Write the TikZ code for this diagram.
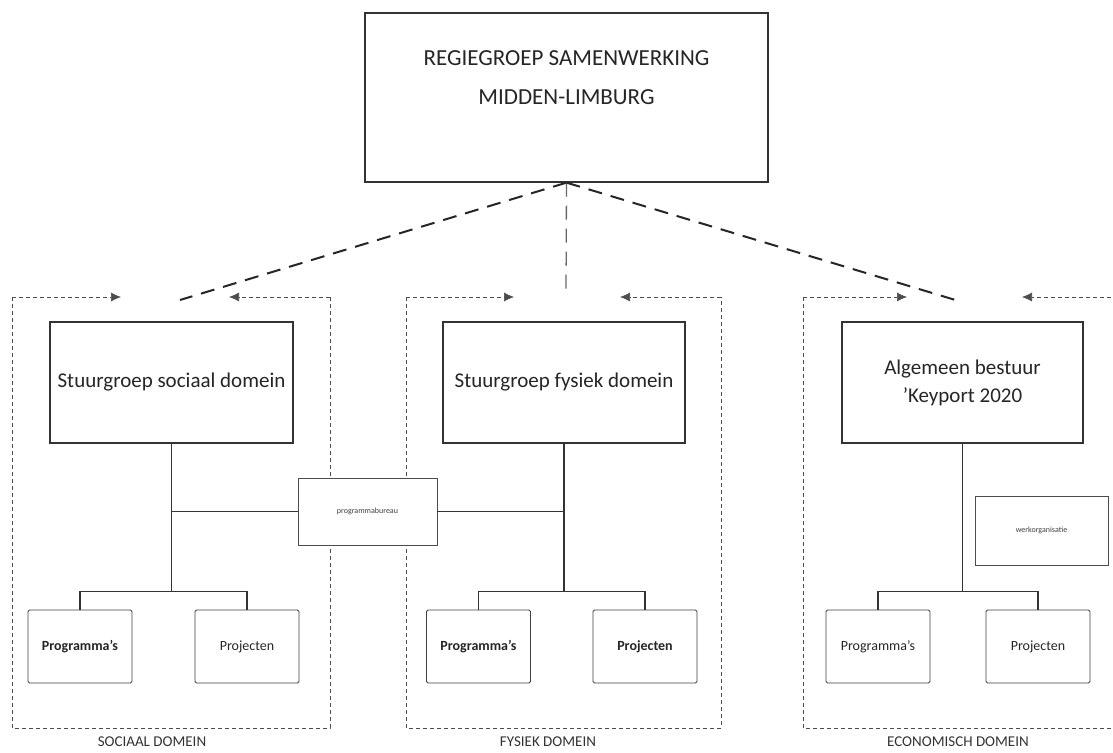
\documentclass[tikz,border=0pt]{standalone}
\usepackage{fontspec}
\setmainfont{Carlito}
\usetikzlibrary{arrows.meta}

\begin{document}
\begin{tikzpicture}[x=1pt,y=-1pt,
	stuurbox/.style={draw=black!80, line width=1.3pt, fill=white, text=black!85, align=center, inner sep=0pt},
	subbox/.style={draw=black!75, line width=0.9pt, rounded corners=1.5pt, fill=white, text=black!85, inner sep=0pt, minimum width=104, minimum height=73, font=\fontsize{14}{16}\selectfont},
	smallbox/.style={draw=black!70, line width=0.7pt, fill=white, text=black!75, inner sep=0pt, font=\fontsize{8}{9}\selectfont},
	dombox/.style={draw=black!70, line width=0.6pt, dash pattern=on 4pt off 3pt},
	domarrow/.style={dombox, -{Latex[length=10pt,width=9pt]}},
	regielink/.style={draw=black!85, line width=2pt, dash pattern=on 14pt off 9pt},
	treeline/.style={draw=black!80, line width=1.1pt},
	domlabel/.style={text=black!80, font=\fontsize{15}{17}\selectfont}]

	\useasboundingbox (0,0) rectangle (1113,752);

	% the three domains
	\coordinate (soc-nw) at (12,297);  \coordinate (soc-ne) at (330,297);
	\coordinate (soc-sw) at (12,728);  \coordinate (soc-se) at (330,728);
	\coordinate (soc-tipl) at (121,297); \coordinate (soc-tipr) at (229,297);
	\coordinate (soc-gap) at (180,300);
	\coordinate (fys-nw) at (406,297); \coordinate (fys-ne) at (721,297);
	\coordinate (fys-sw) at (406,728); \coordinate (fys-se) at (721,728);
	\coordinate (fys-tipl) at (514,297); \coordinate (fys-tipr) at (620,297);
	\coordinate (fys-gap) at (566,295);
	\coordinate (eco-nw) at (803,297); \coordinate (eco-ne) at (1125,297);
	\coordinate (eco-sw) at (803,728); \coordinate (eco-se) at (1125,728);
	\coordinate (eco-tipl) at (907,297); \coordinate (eco-tipr) at (1022,297);
	\coordinate (eco-gap) at (962,302);

	\draw[dombox] (soc-nw) -- (soc-sw) -- (soc-se) -- (soc-ne);
	\draw[domarrow] (soc-nw) -- (soc-tipl);
	\draw[domarrow] (soc-ne) -- (soc-tipr);
	\draw[dombox] (fys-nw) -- (fys-sw) -- (fys-se) -- (fys-ne);
	\draw[domarrow] (fys-nw) -- (fys-tipl);
	\draw[domarrow] (fys-ne) -- (fys-tipr);
	\draw[dombox] (eco-nw) -- (eco-sw) -- (eco-se) -- (eco-ne);
	\draw[domarrow] (eco-nw) -- (eco-tipl);
	\draw[domarrow] (eco-ne) -- (eco-tipr);

	\node[domlabel] (soc-lbl) at (152,742) {SOCIAAL DOMEIN};
	\node[domlabel] (fys-lbl) at (548,742) {FYSIEK DOMEIN};
	\node[domlabel] (eco-lbl) at (958,742) {ECONOMISCH DOMEIN};

	% regiegroep
	\node[stuurbox, minimum width=403, minimum height=169] (regie) at (566.5,97.5) {};
	\node[text=black!85, align=center, font=\fontsize{23}{39}\selectfont] (regie-txt) at ([yshift=20pt]regie.center) {REGIEGROEP SAMENWERKING\\MIDDEN-LIMBURG};
	\draw[regielink] (regie.south) -- (soc-gap);
	\draw[regielink, line width=1.3pt, draw=black!60] (regie.south) -- (fys-gap);
	\draw[regielink] (regie.south) -- (eco-gap);

	% stuurgroepen
	\node[stuurbox, minimum width=243, minimum height=121, font=\fontsize{21}{28}\selectfont] (sgsoc) at (171.5,382.5) {Stuurgroep sociaal domein};
	\node[stuurbox, minimum width=242, minimum height=121, font=\fontsize{21}{28}\selectfont] (sgfys) at (564,382.5) {Stuurgroep fysiek domein};
	\node[stuurbox, minimum width=241, minimum height=121, font=\fontsize{21}{28}\selectfont] (ab) at (962.5,382.5) {Algemeen bestuur\\'Keyport 2020};

	\node[smallbox, minimum width=139, minimum height=67] (pbureau) at (367.5,511.5) {programmabureau};
	\node[smallbox, minimum width=133, minimum height=69] (werkorg) at (1041.5,530.5) {werkorganisatie};

	\coordinate (soc-fork) at (171.5,592);
	\coordinate (fys-fork) at (564,592);
	\coordinate (eco-fork) at (962.5,592);
	\draw[treeline] (sgsoc) -- (soc-fork);
	\draw[treeline] (sgfys) -- (fys-fork);
	\draw[treeline] (ab) -- (eco-fork);
	\draw[treeline] (pbureau.west) -- (pbureau.west -| sgsoc.south);
	\draw[treeline] (pbureau.east) -- (pbureau.east -| sgfys.south);

	% programma's en projecten
	\node[subbox] (socprog) at (80,646.5) {\textbf{Programma's}};
	\node[subbox] (socproj) at (247,646.5) {Projecten};
	\node[subbox] (fysprog) at (478.5,646.5) {\textbf{Programma's}};
	\node[subbox] (fysproj) at (645,646.5) {\textbf{Projecten}};
	\node[subbox] (ecoprog) at (878,646.5) {Programma's};
	\node[subbox] (ecoproj) at (1038,646.5) {Projecten};
	\draw[treeline] (socprog.north) -- ++(0,-18) -| (socproj.north);
	\draw[treeline] (fysprog.north) -- ++(0,-18) -| (fysproj.north);
	\draw[treeline] (ecoprog.north) -- ++(0,-18) -| (ecoproj.north);
\end{tikzpicture}
\end{document}
